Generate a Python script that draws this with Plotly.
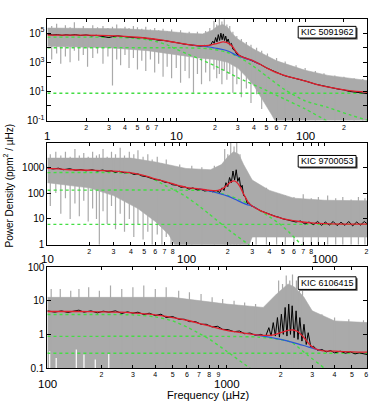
import plotly.graph_objects as go

# ---------------- DATA (frequency in microHz, power as log10(ppm^2/microHz)) ----------------
# Panel 1 : KIC 5091962
p1_label = "KIC 5091962"
p1_band_up = [(1,5.35),(2,5.35),(4,5.3),(8,5.15),(12,5.0),(16,4.95),(19,5.2),(21,5.5),(23,5.6),(25,5.4),(27,5.0),
              (30,4.6),(40,3.9),(60,3.1),(100,2.45),(150,2.1),(302,1.75)]
p1_band_lo = [(1,4.1),(3,4.0),(6,3.8),(10,3.5),(15,3.3),(20,3.2),(25,3.0),(30,2.6),(35,2.0),(40,1.4),(45,0.7),
              (50,0.0),(55,-0.6),(60,-1.2),(302,-1.2)]
p1_spikes = [(1.08,3.2,5.5),(1.18,3.6,5.65),(1.27,2.9,5.3),(1.38,3.4,5.55),(1.5,3.0,5.4),(1.62,3.8,5.75),(1.75,3.1,5.3),
             (1.9,3.5,5.5),(2.05,2.7,5.3),(2.25,3.3,5.55),(2.45,3.6,5.4),(2.7,2.9,5.5),(2.95,3.4,5.35),(3.2,1.4,5.45),
             (3.45,3.2,5.6),(3.7,2.8,5.3),(4.0,3.5,5.45),(4.3,2.6,5.35),(4.65,3.3,5.5),(5.0,2.5,5.4),(5.4,3.1,5.3),
             (5.8,2.4,5.45),(6.3,3.2,5.25),(6.8,2.3,5.35),(7.3,2.9,5.2),(7.9,2.0,5.3),(8.5,2.7,5.15),(9.2,1.9,5.25),
             (10,2.6,5.05),(10.8,1.6,5.2),(11.7,2.4,5.0),(12.6,1.9,5.1),(13.6,0.9,4.95),(14.6,2.2,5.1),(15.7,1.5,4.95),
             (16.9,2.3,5.15),(18.2,1.7,5.35),(19.6,2.5,5.85),(20.6,1.9,5.6),(21.6,2.2,6.0),(22.6,1.5,5.8),(23.6,2.4,5.95),
             (24.7,1.8,5.6),(26,2.2,5.5),(27.5,0.9,5.1),(29.5,1.5,4.8),(32,0.6,4.6),(35,1.2,4.4),(38,0.2,4.2),(42,0.8,4.0),
             (46,-0.2,3.8),(51,0.3,3.6),(60,-1.2,3.3),(70,-1.2,3.05),(85,-1.2,2.8),(100,-1.2,2.6),(120,-1.2,2.4),
             (140,-1.2,2.25),(170,-1.2,2.1),(200,-1.2,2.0),(240,-1.2,1.9),(280,-1.2,1.85)]
p1_black = [(1,4.92),(1.1,4.88),(1.2,4.9),(1.3,4.85),(1.4,4.89),(1.5,4.86),(1.65,4.9),(1.8,4.84),(2.0,4.88),(2.2,4.82),
            (2.4,4.85),(2.6,4.8),(2.8,4.72),(3.0,4.7),(3.2,4.76),(3.5,4.82),(3.8,4.78),(4.2,4.74),(4.6,4.72),(5.0,4.68),
            (5.5,4.7),(6.0,4.62),(6.6,4.6),(7.2,4.52),(8,4.5),(8.8,4.42),(9.6,4.38),(10.5,4.32),(11.5,4.25),(12.5,4.22),
            (13.5,4.17),(14.5,4.15),(15.5,4.1),(16.5,4.16),(17.5,4.12),(18.5,4.2),(19.2,4.45),(19.7,4.3),(20.2,4.7),
            (20.7,4.4),(21.2,4.9),(21.7,4.5),(22.2,5.0),(22.7,4.55),(23.2,4.95),(23.7,4.5),(24.2,4.8),(24.7,4.4),
            (25.3,4.6),(26,4.2),(26.8,4.3),(27.5,3.9),(28.5,3.8),(29.5,3.55),(31,3.45),(33,3.35),(35,3.27),(38,3.15),
            (41,3.0),(45,2.85),(50,2.62),(55,2.45),(61,2.25),(68,2.1),(75,2.0),(83,1.92),(92,1.8),(100,1.72),(110,1.6),
            (120,1.5),(135,1.4),(150,1.3),(165,1.22),(180,1.16),(200,1.1),(220,1.0),(245,0.95),(270,0.9),(302,0.85)]
p1_red = [(1,4.87),(2,4.86),(3,4.83),(4,4.78),(5,4.72),(6,4.65),(8,4.5),(10,4.35),(12,4.24),(13.5,4.18),(15.4,4.14),
          (17,4.14),(18.5,4.18),(20,4.26),(21.5,4.34),(23,4.4),(24.5,4.37),(26,4.25),(27.5,4.05),(29,3.75),(31,3.47),
          (34,3.3),(38,3.17),(45,2.85),(52,2.55),(61.5,2.25),(75,2.0),(93,1.8),(120,1.5),(168,1.22),(220,1.05),(302,0.95)]
p1_blue = [(13.5,4.18),(15.4,4.12),(18,4.05),(20,3.98),(23,3.88),(26,3.72),(29,3.5),(31,3.4),(34,3.27),(38,3.15),(45,2.85)]
p1_green = [
    [(1,4.73),(3,4.72),(4.5,4.67),(6,4.55),(7,4.42),(8.5,4.2),(10,3.9),(12,3.6),(15.4,3.2),(20,2.75),(30,1.95),
     (45,1.25),(70,0.45),(100,-0.2),(146,-1.0),(170,-1.3)],
    [(1,4.0),(12,3.99),(18,3.93),(24,3.72),(30,3.4),(38,2.85),(51,2.0),(70,1.1),(100,0.35),(150,-0.1),(220,-0.6),(310,-1.0)],
    [(1,0.87),(302,0.87)],
]

# Panel 2 : KIC 9700053
p2_label = "KIC 9700053"
p2_band_up = [(10,3.35),(20,3.35),(40,3.35),(60,3.2),(100,2.95),(150,2.9),(180,3.1),(200,3.4),(220,3.6),(240,3.5),
              (260,3.1),(300,2.5),(400,2.1),(600,1.8),(1000,1.72),(2030,1.7)]
p2_band_lo = [(10,2.4),(20,2.2),(30,1.9),(45,1.4),(60,0.9),(75,0.4),(85,-0.1),(280,-0.1),(300,0.3),(2030,0.3)]
p2_spikes = [(10.5,1.5,3.5),(11.5,2.0,3.6),(12.5,1.2,3.45),(13.5,1.8,3.6),(14.6,1.0,3.4),(15.8,1.6,3.7),(17,1.1,3.45),
             (18.3,1.7,3.55),(19.7,0.9,3.4),(21.2,1.4,3.6),(22.6,1.0,3.45),(23.7,0.0,3.5),(25.2,1.3,3.7),(27,0.8,3.4),
             (29,1.5,3.6),(31,0.6,3.5),(33.5,1.2,3.75),(36,0.5,3.45),(39,1.0,3.6),(42,0.3,3.5),(45,0.8,3.65),
             (49,0.2,3.4),(53,0.5,3.5),(57,0.0,3.3),(62,0.4,3.4),(67,0.0,3.15),(72,0.3,3.3),(78,0.0,3.05),
             (90,0.0,3.1),(110,0.0,3.05),(130,0.0,3.0),(160,0.0,3.05),(190,0.0,3.7),(200,0.0,3.5),(210,0.0,3.95),
             (222,0.0,3.8),(232,0.0,3.95),(245,0.0,3.5),(320,0.0,2.3),(380,0.0,2.2),(450,0.0,2.0),(520,0.0,1.9),
             (600,0.0,1.85),(700,0.0,1.95),(800,0.0,1.8),(900,0.0,1.85),(1050,0.0,1.9),(1200,0.0,1.8),(1350,0.0,1.85),
             (1550,0.0,1.75),(1750,0.0,1.85),(1950,0.0,1.8)]
p2_black = [(10,2.97),(11,2.93),(12,2.96),(13,2.9),(14.5,2.94),(16,2.88),(17.5,2.91),(19,2.86),(21,2.9),(23,2.85),
            (25,2.89),(27,2.84),(29,2.86),(31,2.8),(33,2.84),(36,2.78),(39,2.8),(42,2.72),(45,2.74),(48,2.66),(52,2.63),
            (56,2.58),(60,2.52),(65,2.5),(70,2.42),(75,2.4),(80,2.32),(86,2.3),(92,2.22),(98,2.24),(105,2.15),(112,2.2),
            (120,2.12),(128,2.14),(136,2.08),(145,2.1),(155,2.05),(165,2.1),(175,2.02),(182,2.2),(188,2.1),(194,2.4),
            (200,2.25),(206,2.6),(212,2.4),(218,2.85),(224,2.5),(230,2.9),(236,2.45),(242,2.6),(248,2.2),(254,2.3),
            (260,1.9),(268,1.85),(276,1.6),(285,1.62),(295,1.5),(305,1.48),(320,1.4),(335,1.35),(350,1.3),(370,1.25),
            (390,1.2),(410,1.15),(440,1.1),(470,1.06),(500,1.0),(540,0.96),(580,0.93),(620,0.88),(670,0.92),(720,0.8),
            (770,0.88),(830,0.78),(890,0.9),(950,0.75),(1010,0.88),(1080,0.76),(1150,0.9),(1230,0.74),(1310,0.87),
            (1400,0.75),(1490,0.9),(1590,0.73),(1700,0.88),(1810,0.76),(1930,0.9),(2030,0.8)]
p2_red = [(10,2.95),(12,2.93),(15,2.9),(20,2.88),(25,2.87),(30,2.85),(35,2.82),(40,2.78),(45,2.73),(50,2.67),(60,2.55),
          (70,2.45),(80,2.36),(90,2.28),(100,2.22),(124,2.16),(150,2.1),(170,2.1),(185,2.18),(200,2.33),(212,2.44),
          (222,2.47),(232,2.42),(245,2.25),(258,2.0),(270,1.8),(283,1.62),(300,1.5),(330,1.37),(380,1.22),(450,1.08),
          (550,0.96),(650,0.9),(800,0.85),(1000,0.82),(1500,0.8),(2030,0.8)]
p2_blue = [(124,2.16),(150,2.07),(175,1.98),(200,1.88),(225,1.76),(253,1.63),(275,1.55),(300,1.5),(330,1.37)]
p2_green = [
    [(10,2.79),(30,2.79),(40,2.76),(50,2.67),(60,2.5),(70,2.3),(80,2.15),(100,1.86),(124,1.5),(146,1.2),(200,0.6),
     (283,0.0),(320,-0.25)],
    [(10,2.11),(100,2.11),(150,2.08),(200,1.91),(250,1.72),(300,1.5),(350,1.28),(400,1.08),(467,0.83),(550,0.5),
     (680,0.0),(750,-0.2)],
    [(10,0.79),(2030,0.79)],
]

# Panel 3 : KIC 6106415
p3_label = "KIC 6106415"
p3_band_up = [(100,1.1),(500,1.1),(1000,0.9),(1600,0.8),(1900,1.2),(2200,1.5),(2400,1.4),(2700,1.1),(3000,0.7),
              (4000,0.4),(6100,0.35)]
p3_band_lo = [(100,-1.05),(6100,-1.05)]
p3_spikes = [(105,-1,1.35),(118,-1,1.35),(135,-1,1.3),(150,-1,1.35),(170,-1,1.4),(195,-1,1.3),(225,-1,1.45),
             (260,-1,1.35),(300,-1,1.4),(345,-1,1.45),(400,-1,1.35),(460,-1,1.4),(540,-1,1.3),(620,-1,1.25),
             (720,-1,1.2),(830,-1,1.1),(950,-1,1.05),(1100,-1,1.0),(1260,-1,0.95),(1450,-1,0.9),(1950,-1,1.6),
             (2050,-1,1.5),(2150,-1,1.75),(2250,-1,1.6),(2330,-1,1.78),(2450,-1,1.6),(2550,-1,1.55),(2650,-1,1.3),
             (3400,-1,0.6),(4000,-1,0.5),(4800,-1,0.45),(5800,-1,0.42)]
p3_gaps = [(103,-1.05,-0.5),(112,-1.05,-0.7),(145,-1.05,-0.45),(160,-1.05,-0.6),(185,-1.05,-0.75),(220,-1.05,-0.55)]
p3_black = [(100,0.7),(110,0.66),(120,0.7),(130,0.65),(140,0.69),(150,0.72),(160,0.66),(175,0.7),(190,0.64),(205,0.69),
            (220,0.66),(240,0.7),(260,0.62),(280,0.67),(300,0.63),(320,0.66),(345,0.59),(370,0.63),(400,0.56),(430,0.6),
            (460,0.5),(500,0.53),(540,0.45),(580,0.45),(620,0.38),(670,0.38),(720,0.3),(770,0.3),(830,0.22),(890,0.24),
            (950,0.15),(1020,0.14),(1100,0.08),(1180,0.1),(1260,0.02),(1350,0.04),(1450,-0.03),(1550,0.0),(1650,-0.06),
            (1720,0.2),(1770,-0.05),(1820,0.35),(1870,-0.05),(1920,0.5),(1970,-0.08),(2020,0.6),(2070,0.0),(2120,0.8),
            (2170,-0.05),(2220,0.9),(2270,0.0),(2320,0.85),(2380,-0.1),(2440,0.7),(2500,-0.15),(2560,0.5),(2630,-0.2),
            (2700,0.3),(2780,-0.3),(2850,0.05),(2950,-0.38),(3050,-0.35),(3200,-0.47),(3400,-0.45),(3600,-0.52),
            (3800,-0.48),(4000,-0.55),(4300,-0.5),(4600,-0.56),(4900,-0.52),(5200,-0.58),(5500,-0.55),(6100,-0.6)]
p3_red = [(100,0.68),(150,0.68),(200,0.67),(250,0.66),(300,0.64),(350,0.61),(400,0.58),(450,0.54),(500,0.5),(600,0.42),
          (700,0.33),(800,0.25),(900,0.18),(1000,0.12),(1200,0.05),(1400,0.0),(1600,-0.03),(1800,-0.02),(2000,0.05),
          (2200,0.12),(2350,0.13),(2500,0.08),(2700,-0.1),(2900,-0.3),(3100,-0.42),(3400,-0.48),(4000,-0.5),
          (5000,-0.52),(6100,-0.53)]
p3_blue = [(1400,0.0),(1600,-0.05),(1800,-0.1),(2000,-0.15),(2200,-0.2),(2500,-0.28),(2800,-0.36),(3100,-0.43),(3400,-0.48)]
p3_green = [
    [(100,0.59),(300,0.58),(400,0.52),(500,0.4),(600,0.22),(707,0.02),(805,-0.15),(1000,-0.5),(1343,-1.0),(1500,-1.2)],
    [(100,-0.06),(1000,-0.06),(1500,-0.08),(2000,-0.15),(2330,-0.25),(2800,-0.6),(3500,-1.0),(3800,-1.2)],
    [(100,-0.56),(6100,-0.56)],
]

# Axes: log10 ranges and tick labels
p1_xrange, p1_yrange = [0, 2.48], [-1, 6]
p2_xrange, p2_yrange = [1, 3.305], [0, 3.94]
p3_xrange, p3_yrange = [2, 3.783], [-1, 2]
p1_xminor = [2, 3, 4, 5, 6, 7, 20, 30, 40, 50, 60, 70, 200]
p2_xminor = [20, 30, 40, 50, 60, 70, 80, 200, 300, 400, 500, 600, 700, 800, 2000]
p3_xminor = [200, 300, 400, 500, 600, 700, 800, 900, 2000, 3000, 4000, 5000, 6000]
p1_xmajor = [1, 10, 100]
p2_xmajor = [10, 100, 1000]
p3_xmajor = [100, 1000]
p1_yticks = [0.1, 10, 1000, 1e5]
p1_yticktext = ["10<sup>-1</sup>", "10<sup>1</sup>", "10<sup>3</sup>", "10<sup>5</sup>"]
p1_yunlabeled = [1, 100, 1e4, 1e6]
p2_yticks = [1, 10, 100, 1000]
p2_yticktext = ["1", "10", "100", "1000"]
p3_yticks = [0.1, 1, 10, 100]
p3_yticktext = ["0.1", "1", "10", "100"]

x_title = "Frequency (µHz)"
y_title = "Power Density (ppm<sup>2</sup> / µHz)"

# ---------------- FIGURE ----------------
W, H = 372, 408
XL, XR = 47.5, 368
panels = [
    dict(top=13, bot=118, lab=133.5, xr=p1_xrange, yr=p1_yrange, up=p1_band_up, lo=p1_band_lo, spikes=p1_spikes,
         gaps=[], black=p1_black, red=p1_red, blue=p1_blue, green=p1_green, label=p1_label, xminor=p1_xminor,
         xmajor=p1_xmajor, yt=p1_yticks, ytt=p1_yticktext, yun=p1_yunlabeled, box=(299, 357, 21, 33)),
    dict(top=141, bot=246, lab=261, xr=p2_xrange, yr=p2_yrange, up=p2_band_up, lo=p2_band_lo, spikes=p2_spikes,
         gaps=[], black=p2_black, red=p2_red, blue=p2_blue, green=p2_green, label=p2_label, xminor=p2_xminor,
         xmajor=p2_xmajor, yt=p2_yticks, ytt=p2_yticktext, yun=[], box=(299, 357, 154, 166)),
    dict(top=269, bot=373, lab=389.5, xr=p3_xrange, yr=p3_yrange, up=p3_band_up, lo=p3_band_lo, spikes=p3_spikes,
         gaps=p3_gaps, black=p3_black, red=p3_red, blue=p3_blue, green=p3_green, label=p3_label, xminor=p3_xminor,
         xmajor=p3_xmajor, yt=p3_yticks, ytt=p3_yticktext, yun=[], box=(299, 357, 279, 292)),
]

GRAY = "#aaaaaa"
RED = "#e0202e"
BLUE = "#2a55d8"
GREEN = "#44dd44"
FONT = "Liberation Sans"


def unz(pairs):
    return [p[0] for p in pairs], [10 ** p[1] for p in pairs]


def segs(triples):
    xs, ys = [], []
    for f, a, b in triples:
        xs += [f, f, None]
        ys += [10 ** a, 10 ** b, None]
    return xs, ys


fig = go.Figure()
annotations = []
shapes = []
for i, p in enumerate(panels):
    n = "" if i == 0 else str(i + 1)
    xa, ya = "x" + n, "y" + n
    uf, uv = unz(p["up"])
    lf, lv = unz(p["lo"])
    fig.add_trace(go.Scatter(x=uf + lf[::-1], y=uv + lv[::-1], fill="toself", fillcolor=GRAY, mode="lines",
                             line=dict(color=GRAY, width=0.6), xaxis=xa, yaxis=ya, hoverinfo="skip"))
    sx, sy = segs(p["spikes"])
    fig.add_trace(go.Scatter(x=sx, y=sy, mode="lines", line=dict(color=GRAY, width=1.2), xaxis=xa, yaxis=ya,
                             hoverinfo="skip"))
    if p["gaps"]:
        gx, gy = segs(p["gaps"])
        fig.add_trace(go.Scatter(x=gx, y=gy, mode="lines", line=dict(color="white", width=1.2), xaxis=xa,
                                 yaxis=ya, hoverinfo="skip"))
    for g in p["green"]:
        gx, gy = unz(g)
        fig.add_trace(go.Scatter(x=gx, y=gy, mode="lines", line=dict(color=GREEN, width=1.4, dash="3px,3px",
                                 shape="spline", smoothing=0.6), xaxis=xa, yaxis=ya))
    bx, by = unz(p["black"])
    fig.add_trace(go.Scatter(x=bx, y=by, mode="lines", line=dict(color="black", width=1), xaxis=xa, yaxis=ya))
    blx, bly = unz(p["blue"])
    fig.add_trace(go.Scatter(x=blx, y=bly, mode="lines", line=dict(color=BLUE, width=1.2, shape="spline",
                             smoothing=0.8), xaxis=xa, yaxis=ya))
    rx, ry = unz(p["red"])
    fig.add_trace(go.Scatter(x=rx, y=ry, mode="lines", line=dict(color=RED, width=1.3, shape="spline",
                             smoothing=0.8), xaxis=xa, yaxis=ya))

    dom_y = [1 - p["bot"] / H, 1 - p["top"] / H]
    dom_x = [XL / W, XR / W]
    lo_dec, hi_dec = int(p["xr"][0]), int(p["xr"][1]) + 1
    allpos = [k * 10 ** d for d in range(lo_dec, hi_dec + 1) for k in range(1, 10)]
    axcommon = dict(type="log", showline=True, linecolor="black", linewidth=1, mirror="allticks",
                    ticks="inside", tickcolor="black", showgrid=False, zeroline=False)
    fig.update_layout(**{
        ("xaxis" + n): dict(axcommon, domain=dom_x, range=p["xr"], anchor=ya, tickmode="array",
                            tickvals=p["xminor"], ticktext=[str(v)[0] for v in p["xminor"]], ticklen=3,
                            tickfont=dict(size=7, family=FONT, color="black"),
                            minor=dict(tickmode="array", tickvals=allpos, ticks="inside", ticklen=3,
                                       tickcolor="black")),
        ("yaxis" + n): dict(axcommon, domain=dom_y, range=p["yr"], anchor=xa, tickmode="array", tickvals=p["yt"],
                            ticktext=p["ytt"], ticklen=4, tickfont=dict(size=10, family=FONT, color="black"),
                            minor=dict(tickmode="array", tickvals=p["yun"], ticks="inside", ticklen=4,
                                       tickcolor="black")),
    })
    for m in p["xmajor"]:
        annotations.append(dict(x=len(str(m)) - 1, xref=xa, y=1 - p["lab"] / H, yref="paper",
                                text=str(m), showarrow=False, yanchor="middle", xanchor="center",
                                font=dict(size=11.5, family=FONT, color="black")))
    x0, x1, y0, y1 = p["box"]
    shapes.append(dict(type="rect", xref="paper", yref="paper", x0=(x0 + 1.5) / W, x1=(x1 + 1.5) / W,
                       y0=1 - (y1 + 1.5) / H, y1=1 - (y0 + 1.5) / H, fillcolor="#444444", line=dict(width=0)))
    shapes.append(dict(type="rect", xref="paper", yref="paper", x0=x0 / W, x1=x1 / W, y0=1 - y1 / H, y1=1 - y0 / H,
                       fillcolor="white", line=dict(color="black", width=1)))
    annotations.append(dict(x=(x0 + x1) / 2 / W, y=1 - (y0 + y1) / 2 / H, xref="paper", yref="paper",
                            text=p["label"], showarrow=False, xanchor="center", yanchor="middle",
                            font=dict(size=9, family=FONT, color="black")))

annotations.append(dict(x=209 / W, y=1 - 401 / H, xref="paper", yref="paper", text=x_title, showarrow=False,
                        xanchor="center", yanchor="middle", font=dict(size=11, family=FONT, color="black")))
annotations.append(dict(x=8 / W, y=1 - 185 / H, xref="paper", yref="paper", text=y_title, showarrow=False,
                        textangle=-90, xanchor="center", yanchor="middle",
                        font=dict(size=10, family=FONT, color="black")))

fig.update_layout(width=W, height=H, margin=dict(l=0, r=0, t=0, b=0), showlegend=False,
                  paper_bgcolor="white", plot_bgcolor="white", annotations=annotations, shapes=shapes)

fig.write_html("out.html")
